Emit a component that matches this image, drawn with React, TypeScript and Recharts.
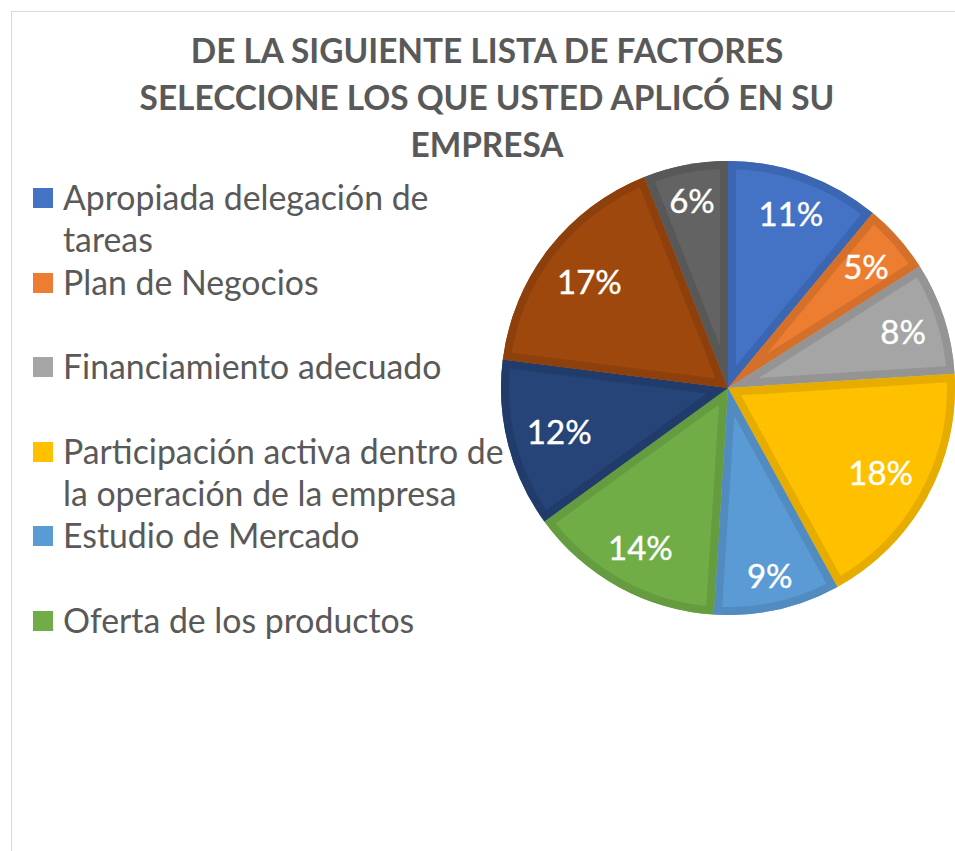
import React from 'react';
import { PieChart, Pie, Cell, Legend, Sector } from 'recharts';

const categories = [
  'Apropiada delegación de tareas',
  'Plan de Negocios',
  'Financiamiento adecuado',
  'Participación activa dentro de la operación de la empresa',
  'Estudio de Mercado',
  'Oferta de los productos',
  'Factor 7',
  'Factor 8',
  'Factor 9',
];
const values = [11, 5, 8, 18, 9, 14, 12, 17, 6];
const legendLines = [
  ['Apropiada delegación de', 'tareas'],
  ['Plan de Negocios'],
  ['Financiamiento adecuado'],
  ['Participación activa dentro de', 'la operación de la empresa'],
  ['Estudio de Mercado'],
  ['Oferta de los productos'],
];
const titleLines = [
  'DE LA SIGUIENTE LISTA DE FACTORES',
  'SELECCIONE LOS QUE USTED APLICÓ EN SU',
  'EMPRESA',
];

const fills = ['#4472C4', '#ED7D31', '#A5A5A5', '#FFC000', '#5B9BD5', '#70AD47', '#264478', '#9E480E', '#636363'];
const borders = ['#3B66B2', '#D5702B', '#949494', '#E6AC00', '#528BBF', '#659C40', '#213C6B', '#8D400C', '#585858'];

const data = categories.map((name, i) => ({ name, value: values[i] }));

const FONT = 'Lato, "Open Sans", sans-serif';
const LABEL_SIZE = 33;

const renderSlice = (props: any) => {
  const { cx, cy, outerRadius, startAngle, endAngle, midAngle, index, percent } = props;
  const id = `slice-clip-${index}`;
  const RAD = Math.PI / 180;
  const text = `${Math.round(percent * 100)}%`;
  const w = text.length * 0.64 * LABEL_SIZE;
  const h = 0.75 * LABEL_SIZE;
  const c = Math.cos(-midAngle * RAD);
  const s = Math.sin(-midAngle * RAD);
  const d = 19 + (Math.abs(c) * w) / 2 + (Math.abs(s) * h) / 2;
  const r = outerRadius - d;
  const x = cx + r * c;
  const y = cy + r * s;
  return (
    <g key={id}>
      <defs>
        <clipPath id={id}>
          <Sector cx={cx} cy={cy} innerRadius={0} outerRadius={outerRadius} startAngle={startAngle} endAngle={endAngle} />
        </clipPath>
      </defs>
      <Sector
        cx={cx}
        cy={cy}
        innerRadius={0}
        outerRadius={outerRadius}
        startAngle={startAngle}
        endAngle={endAngle}
        fill="none"
        stroke={borders[index]}
        strokeWidth={16}
        strokeLinejoin="miter"
        clipPath={`url(#${id})`}
      />
      <text
        x={x}
        y={y}
        fill="#FFFFFF"
        stroke="#FFFFFF"
        strokeWidth={0.4}
        textAnchor="middle"
        dominantBaseline="central"
        fontSize={LABEL_SIZE}
        fontFamily={FONT}
      >
        {text}
      </text>
    </g>
  );
};

const renderLegend = () => (
  <div style={{ fontFamily: FONT, fontSize: 33.8, color: '#595959' }}>
    {legendLines.map((lines, i) => (
      <div key={i} style={{ display: 'flex', height: 84.5 }}>
        <div style={{ width: 30, paddingTop: 12 }}>
          <div style={{ width: 20, height: 20, background: fills[i] }} />
        </div>
        <div>
          {lines.map((l, j) => (
            <div key={j} style={{ height: 42, lineHeight: '42px', whiteSpace: 'nowrap' }}>
              {l}
            </div>
          ))}
        </div>
      </div>
    ))}
  </div>
);

export default function App() {
  return (
    <div
      style={{
        position: 'absolute',
        left: 0,
        top: 0,
        width: 955,
        height: 851,
        overflow: 'hidden',
        background: '#fff',
      }}
    >
      <div
        style={{
          position: 'absolute',
          left: 11,
          top: 11,
          width: 1000,
          height: 1000,
          border: '1px solid #D9D9D9',
          boxSizing: 'border-box',
        }}
      />
      <div
        style={{
          position: 'absolute',
          left: 87,
          top: 27,
          width: 800,
          textAlign: 'center',
          fontFamily: FONT,
          fontWeight: 700,
          fontSize: 33.4,
          color: '#595959',
          lineHeight: '47px',
        }}
      >
        {titleLines.map((t, i) => (
          <div key={i}>{t}</div>
        ))}
      </div>
      <PieChart width={955} height={851} margin={{ top: 0, left: 0, right: 0, bottom: 0 }} style={{ position: 'absolute', left: 0, top: 0 }}>
        <Pie
          data={data}
          dataKey="value"
          nameKey="name"
          cx={728}
          cy={388}
          innerRadius={0}
          outerRadius={227}
          startAngle={90}
          endAngle={-270}
          stroke="none"
          label={renderSlice}
          labelLine={false}
          isAnimationActive={false}
        >
          {data.map((_, i) => (
            <Cell key={i} fill={fills[i]} stroke="none" />
          ))}
        </Pie>
        <Legend
          verticalAlign="bottom"
          layout="horizontal"
          content={renderLegend}
          wrapperStyle={{ position: 'absolute', left: 33, top: 176, bottom: 'auto', width: 480 }}
        />
      </PieChart>
    </div>
  );
}
